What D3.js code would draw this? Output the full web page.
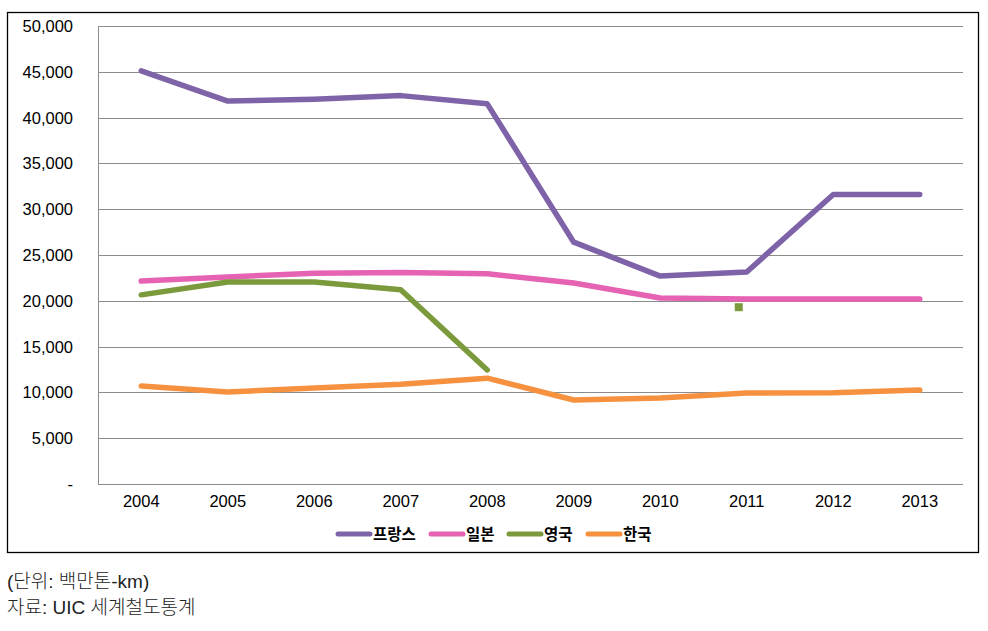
<!DOCTYPE html>
<html><head><meta charset="utf-8">
<script src="https://cdn.jsdelivr.net/npm/d3@7"></script>
<style>
body{margin:0;background:#fff;}
svg{display:block;}
text{font-family:"Liberation Sans",Arial,"Noto Sans CJK KR",sans-serif;}
</style></head>
<body>
<svg id="c" width="988" height="631"></svg>
<script>
const years = ["2004","2005","2006","2007","2008","2009","2010","2011","2012","2013"];
const france = [45100, 41800, 42000, 42400, 41500, 26400, 22700, 23150, 31600, 31600];
const japan  = [22150, 22600, 23000, 23100, 22950, 21950, 20300, 20200, 20200, 20200];
const uk     = [20650, 22050, 22050, 21200, 12450, null, null, 19300, null, null];
const korea  = [10700, 10050, 10480, 10900, 11550, 9170, 9400, 9930, 9950, 10250];
const yTicks = [0, 5000, 10000, 15000, 20000, 25000, 30000, 35000, 40000, 45000, 50000];
const seriesNames = ["프랑스", "일본", "영국", "한국"];
const notes = ["(단위: 백만톤-km)", "자료: UIC 세계철도통계"];

const colors = ["#7F63A8", "#E662B2", "#7B9A3C", "#F6923F"];
const svg = d3.select("#c");

// outer border
svg.append("rect").attr("x",7.5).attr("y",12.5).attr("width",971).attr("height",540)
  .attr("fill","none").attr("stroke","#000").attr("stroke-width",1.3);

const x = d3.scaleBand().domain(years).range([98, 963]);
const y = d3.scaleLinear().domain([0, 50000]).range([484, 26]);

// gridlines
svg.append("g").selectAll("line").data(yTicks).join("line")
  .attr("x1",98).attr("x2",963)
  .attr("y1",d=>Math.round(y(d))+0.5).attr("y2",d=>Math.round(y(d))+0.5)
  .attr("stroke","#8c8c8c").attr("stroke-width",1);
// y axis line
svg.append("line").attr("x1",98.5).attr("x2",98.5).attr("y1",26).attr("y2",484.5)
  .attr("stroke","#8c8c8c");

// y labels
const fmt = d3.format(",");
svg.append("g").selectAll("text").data(yTicks).join("text")
  .attr("x",73).attr("y",d=>y(d)+6).attr("text-anchor","end")
  .attr("font-size",16.5).attr("fill","#000")
  .text(d=>d===0?"-":fmt(d));

// x labels
svg.append("g").selectAll("text").data(years).join("text")
  .attr("x",d=>x(d)+x.bandwidth()/2).attr("y",507).attr("text-anchor","middle")
  .attr("font-size",16.5).attr("fill","#000").text(d=>d);

const all = [france, japan, uk, korea];
const line = d3.line().defined(d=>d.v!==null && !d.iso)
  .x(d=>x(d.k)+x.bandwidth()/2).y(d=>y(d.v));

all.forEach((s,i)=>{
  const pts = years.map((k,j)=>{
    const v = s[j];
    const prev = j>0 ? s[j-1] : null, next = j<s.length-1 ? s[j+1] : null;
    return {k, v, iso: v!==null && prev===null && next===null};
  });
  svg.append("path").datum(pts).attr("d",line).attr("fill","none")
    .attr("stroke",colors[i]).attr("stroke-width",5.5)
    .attr("stroke-linejoin","round").attr("stroke-linecap","round");
  // isolated points
  pts.filter(p=>p.iso).forEach(p=>{
    svg.append("rect").attr("x",x(p.k)+x.bandwidth()/2-12).attr("y",y(p.v)-4)
      .attr("width",8).attr("height",8).attr("fill",colors[i]);
  });
});

// legend
const legX = [337, 430, 508, 587];
const lg = svg.append("g");
seriesNames.forEach((n,i)=>{
  lg.append("line").attr("x1",legX[i]+1).attr("x2",legX[i]+33).attr("y1",534).attr("y2",534)
    .attr("stroke",colors[i]).attr("stroke-width",5).attr("stroke-linecap","round");
  lg.append("text").attr("x",legX[i]+36).attr("y",540).attr("font-size",15.5)
    .attr("font-weight","bold").attr("fill","#000")
    .attr("font-family","'Noto Sans CJK KR',sans-serif").text(n);
});

// notes
notes.forEach((t,i)=>{
  svg.append("text").attr("x",7).attr("y",588+i*26).attr("font-size",19)
    .attr("fill","#222").attr("font-family","'Noto Sans CJK KR',sans-serif")
    .attr("font-weight",300).text(t);
});
</script>
</body></html>
